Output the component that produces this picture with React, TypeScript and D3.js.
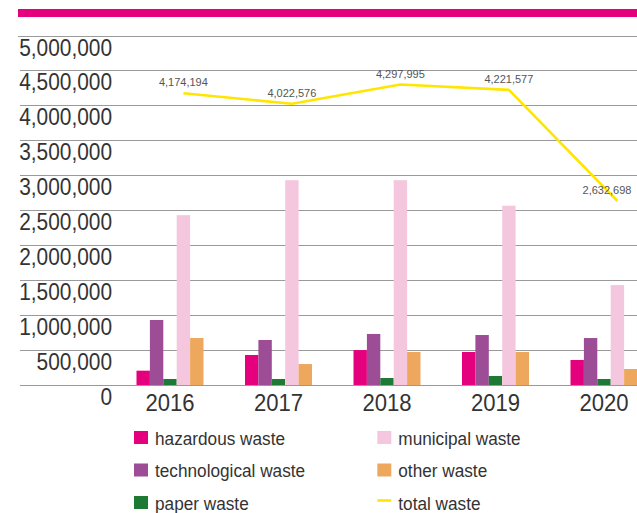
import React from "react";
import * as d3 from "d3";

const years = ["2016", "2017", "2018", "2019", "2020"];
const seriesKeys = ["hazardous", "technological", "paper", "municipal", "other"];
const seriesNames = ["hazardous waste", "technological waste", "paper waste", "municipal waste", "other waste"];
const seriesColors = ["#e5007d", "#9c4d96", "#1d7a35", "#f5c7de", "#eea85e"];
const hazardous = [205000, 429000, 500000, 472000, 358000];
const technological = [930000, 644000, 730000, 715000, 672000];
const paper = [86000, 86000, 100000, 129000, 86000];
const municipal = [2430000, 2930000, 2930000, 2565000, 1430000];
const other = [672000, 300000, 472000, 472000, 229000];
const totalWaste = [4174194, 4022576, 4297995, 4221577, 2632698];
const yTicks = [0, 500000, 1000000, 1500000, 2000000, 2500000, 3000000, 3500000, 4000000, 4500000, 5000000];
const totalColor = "#ffe600";
const totalName = "total waste";

const seriesValues = [hazardous, technological, paper, municipal, other];

const W = 637;
const H = 513;

export default function App() {
  const y = d3.scaleLinear().domain([0, 5000000]).range([385, 35.5]);
  const x = d3
    .scaleBand<string>()
    .domain(years)
    .range([115.75, 115.75 + 5 * 108.5])
    .paddingInner(0.3825)
    .paddingOuter(0.3825 / 2);
  const xs = d3.scaleBand<string>().domain(seriesKeys).range([0, x.bandwidth()]).padding(0);
  const fmt = d3.format(",");
  const lineX = (i: number) => (x(years[i]) as number) + (xs("municipal") as number) + xs.bandwidth() / 2;
  const line = d3
    .line<number>()
    .x((_, i) => lineX(i))
    .y((d) => y(d));

  const font = "'Liberation Sans', Arial, Helvetica, sans-serif";
  const sx = 0.87;
  const ysx = 0.96;
  const lsx = 0.93;

  const legendItems = [
    { name: seriesNames[0], color: seriesColors[0], col: 0, row: 0, type: "rect" },
    { name: seriesNames[1], color: seriesColors[1], col: 0, row: 1, type: "rect" },
    { name: seriesNames[2], color: seriesColors[2], col: 0, row: 2, type: "rect" },
    { name: seriesNames[3], color: seriesColors[3], col: 1, row: 0, type: "rect" },
    { name: seriesNames[4], color: seriesColors[4], col: 1, row: 1, type: "rect" },
    { name: totalName, color: totalColor, col: 1, row: 2, type: "line" },
  ];
  const colX = [134, 377.3];
  const rowY = [431, 463.5, 496];

  return (
    <svg
      width={W}
      height={H}
      style={{ position: "absolute", left: 0, top: 0, background: "#fff" }}
      fontFamily={font}
    >
      <rect x={0} y={0} width={W} height={H} fill="#fff" />
      <rect x={18} y={9} width={W - 18} height={8} fill="#e5007d" />
      {/* gridlines */}
      {yTicks.map((t) => (
        <line
          key={"g" + t}
          x1={t === 5000000 ? 18 : 20}
          x2={W}
          y1={Math.round(y(t)) + 0.5}
          y2={Math.round(y(t)) + 0.5}
          stroke="#9a9a9a"
          strokeWidth={1}
        />
      ))}
      {/* y labels */}
      {yTicks.map((t) => (
        <text
          key={"l" + t}
          transform={`translate(112,${y(t) + 20}) scale(${sx},1)`}
          textAnchor="end"
          fontSize={24}
          fill="#333"
        >
          {fmt(t)}
        </text>
      ))}
      {/* bars */}
      {years.map((yr, i) => (
        <g key={yr} transform={`translate(${x(yr)},0)`}>
          {seriesKeys.map((k, j) => (
            <rect
              key={k}
              x={xs(k) as number}
              width={xs.bandwidth()}
              y={y(seriesValues[j][i])}
              height={y(0) - y(seriesValues[j][i])}
              fill={seriesColors[j]}
            />
          ))}
        </g>
      ))}
      {/* year labels */}
      {years.map((yr) => (
        <text
          key={"x" + yr}
          transform={`translate(${(x(yr) as number) + x.bandwidth() / 2},411) scale(${ysx},1)`}
          textAnchor="middle"
          fontSize={23}
          fill="#333"
        >
          {yr}
        </text>
      ))}
      {/* total line */}
      <path d={line(totalWaste) || ""} fill="none" stroke={totalColor} strokeWidth={2.6} strokeLinejoin="round" />
      {totalWaste.map((v, i) => (
        <text
          key={"t" + i}
          x={Math.min(lineX(i), W - 30)}
          y={y(v) - 7}
          textAnchor="middle"
          fontSize={11}
          fill="#555"
        >
          {fmt(v)}
        </text>
      ))}
      {/* legend */}
      {legendItems.map((it) => (
        <g key={it.name}>
          {it.type === "rect" ? (
            <rect x={colX[it.col]} y={rowY[it.row]} width={14} height={13} fill={it.color} />
          ) : (
            <line
              x1={colX[it.col]}
              x2={colX[it.col] + 14}
              y1={rowY[it.row] + 4.5}
              y2={rowY[it.row] + 4.5}
              stroke={it.color}
              strokeWidth={2.6}
            />
          )}
          <text
            transform={`translate(${colX[it.col] + 21},${rowY[it.row] + 13.5}) scale(${lsx},1)`}
            fontSize={18.5}
            fill="#333"
          >
            {it.name}
          </text>
        </g>
      ))}
    </svg>
  );
}
